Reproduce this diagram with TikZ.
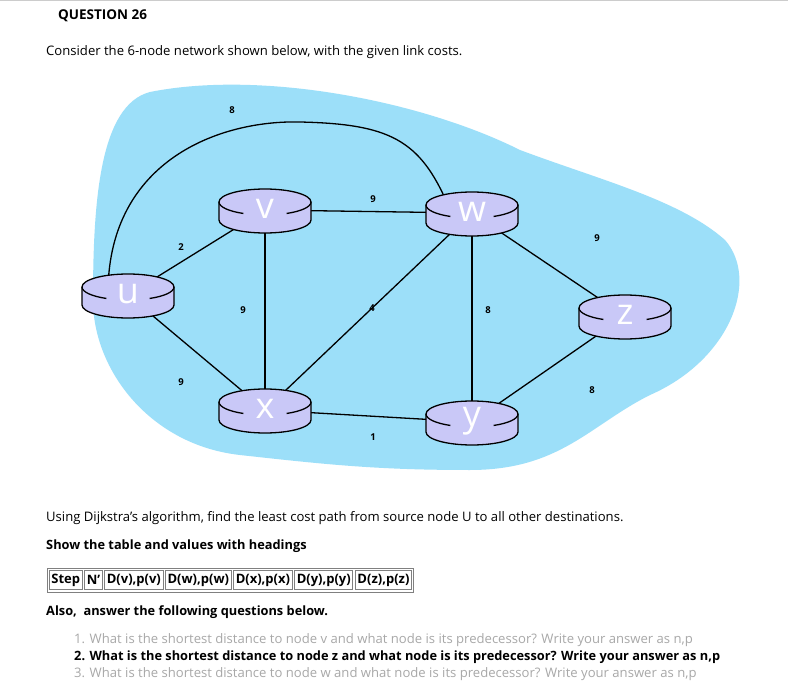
\documentclass[tikz,border=0pt]{standalone}
\usepackage{fontspec}
\setmainfont{Open Sans}
\definecolor{blob}{HTML}{9CDFF9}
\definecolor{rt}{HTML}{C9C8F7}
\definecolor{faint}{HTML}{A8A8A8}
\tikzset{
  link/.style={line width=1.3pt},
  cost/.style={font=\fontsize{9.5}{10}\selectfont\bfseries,inner sep=1pt},
  txt/.style={anchor=west,font=\fontsize{13.1}{15}\selectfont,inner sep=0},
  btxt/.style={anchor=west,font=\fontsize{12.8}{15}\selectfont\bfseries,inner sep=0},
  cell/.style={draw=gray,line width=0.7pt,inner xsep=2pt,inner ysep=1.5pt,font=\fontsize{13}{14}\selectfont\bfseries,anchor=west,minimum height=19pt},
}
\newcommand{\router}[3]{% name, x, y
  \begin{scope}[shift={(#2,#3)}]
    \fill[rt] (-46,-8) -- (-46,10) arc[start angle=180,end angle=0,x radius=46,y radius=13] -- (46,-8) -- cycle;
    \fill[rt] (0,-8) ellipse[x radius=46,y radius=13];
    \draw[line width=1.3pt] (-46,-8) -- (-46,10) arc[start angle=180,end angle=0,x radius=46,y radius=13] -- (46,-8);
    \draw[line width=1.3pt] (-46,-8) arc[start angle=180,end angle=360,x radius=46,y radius=13];
    \draw[line width=1.3pt] (-46,-8) arc[start angle=180,end angle=118,x radius=46,y radius=13];
    \draw[line width=1.3pt] (46,-8) arc[start angle=0,end angle=62,x radius=46,y radius=13];
    \node[white,font=\fontsize{36}{36}\selectfont] (#1t) at (0,-1) {#1};
  \end{scope}}
\begin{document}
\begin{tikzpicture}[x=1pt,y=-1pt]
\useasboundingbox (0,0) rectangle (788,682);
\fill[white] (0,0) rectangle (788,682);
\draw[gray!40] (0,0.5) -- (788,0.5);
\node[btxt,font=\fontsize{13.5}{15}\selectfont\bfseries] (title) at (58,16) {QUESTION 26};
\node[txt] (intro) at (46,52) {Consider the 6-node network shown below, with the given link costs.};
% blob
\fill[blob] (150,92) .. controls (260,70) and (420,100) .. (520,150)
  .. controls (600,180) and (680,200) .. (725,240)
  .. controls (760,280) and (730,360) .. (650,395)
  .. controls (590,425) and (560,470) .. (470,470)
  .. controls (380,470) and (330,465) .. (240,455)
  .. controls (150,445) and (93,370) .. (93,300)
  .. controls (93,200) and (100,105) .. (150,92) -- cycle;
% links
\coordinate (U) at (128,295); \coordinate (V) at (265,210); \coordinate (W) at (472,213);
\coordinate (Z) at (625,316); \coordinate (X) at (265,410); \coordinate (Y) at (472,422);
\draw[link] (U) -- (V); \draw[link] (U) -- (X); \draw[link] (V) -- (W);
\draw[link] (V) -- (X); \draw[link] (X) -- (W); \draw[link] (X) -- (Y);
\draw[link] (W) -- (Y); \draw[link] (W) -- (Z); \draw[link] (Y) -- (Z);
\coordinate (ua) at (108,290); \coordinate (wa) at (448,205);
\draw[link] (ua) .. controls (110,160) and (220,120) .. (300,122)
  .. controls (390,124) and (420,140) .. (wa);
\router{u}{128}{295}\router{v}{265}{210}\router{w}{472}{213}
\router{z}{625}{316}\router{x}{265}{410}\router{y}{472}{422}
% costs
\node[cost] (c1) at (181,247) {2}; \node[cost] (c2) at (181,382) {9};
\node[cost] (c3) at (232,110) {8}; \node[cost] (c4) at (373,199) {9};
\node[cost] (c5) at (243,310) {9}; \node[cost] (c6) at (372,308) {4};
\node[cost] (c7) at (373,437) {1}; \node[cost] (c8) at (488,310) {8};
\node[cost] (c9) at (597,238) {9}; \node[cost] (c10) at (592,390) {8};
% text
\node[txt] (t1) at (46,518) {Using Dijkstra's algorithm, find the least cost path from source node U to all other destinations.};
\node[btxt] (t2) at (46,546) {Show the table and values with headings};
\node[cell] (k1) at (49,580) {Step};
\node[cell] (k2) at ([xshift=2pt]k1.east) {N'};
\node[cell] (k3) at ([xshift=2pt]k2.east) {D(v),p(v)};
\node[cell] (k4) at ([xshift=2pt]k3.east) {D(w),p(w)};
\node[cell] (k5) at ([xshift=2pt]k4.east) {D(x),p(x)};
\node[cell] (k6) at ([xshift=2pt]k5.east) {D(y),p(y)};
\node[cell] (k7) at ([xshift=2pt]k6.east) {D(z),p(z)};
\draw[gray,line width=0.7pt] ([shift={(-2,-2)}]k1.north west) rectangle ([shift={(2,2)}]k7.south east);
\node[btxt] (t3) at (46,612) {Also,\ \ answer the following questions below.};
\node[txt,faint] (q1) at (74,640) {1. What is the shortest distance to node v and what node is its predecessor? Write your answer as n,p};
\node[btxt] (q2) at (74,657) {2. What is the shortest distance to node z and what node is its predecessor? Write your answer as n,p};
\node[txt,faint] (q3) at (74,674) {3. What is the shortest distance to node w and what node is its predecessor? Write your answer as n,p};
\end{tikzpicture}
\end{document}
